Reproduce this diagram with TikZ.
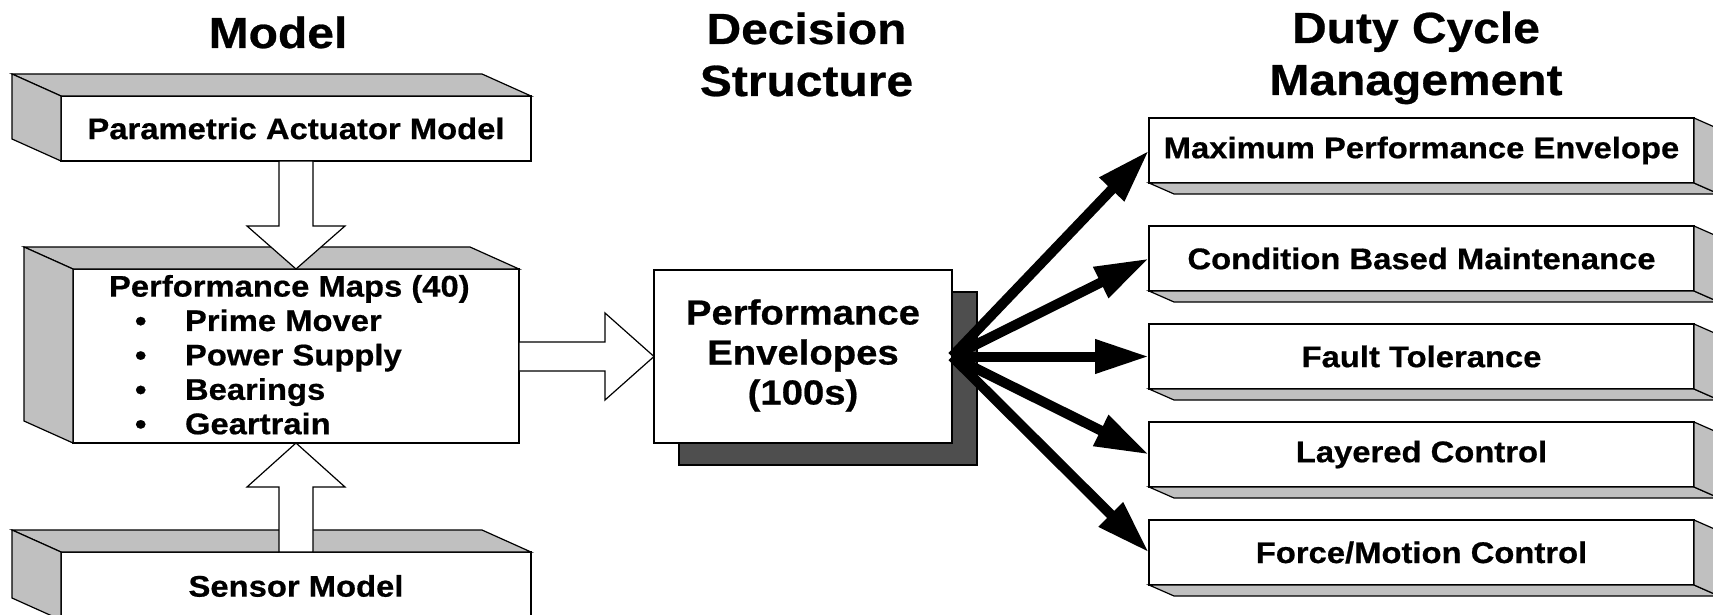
\documentclass[tikz,border=0pt]{standalone}
\usepackage{fontspec}
\setmainfont{Liberation Sans}[FakeStretch=1.1, BoldFeatures={FakeBold=0.6}]
\newfontfamily\titlefamily{Liberation Sans}[FakeStretch=1.1, BoldFeatures={FakeBold=0.6}]
\usetikzlibrary{calc,arrows.meta,shadows}

\definecolor{facegray}{RGB}{192,192,192}
\definecolor{shadowgray}{RGB}{78,78,78}

\tikzset{
  front/.style={draw=black, line width=0.6pt, fill=white, inner sep=0pt, outer sep=0pt,
                font=\bfseries\fontsize{14.9}{17}\selectfont, align=center},
  side/.style={draw=black, line width=0.6pt, fill=facegray, line join=miter},
  hollow/.style={draw=black, line width=0.6pt, fill=white, line join=miter},
  title/.style={font=\titlefamily\bfseries\fontsize{21.8}{26}\selectfont, align=center,
                inner sep=0pt, anchor=north},
  fan/.style={line width=5pt, -{Triangle[length=27pt,width=16pt]}},
  leftblock/.style={front, minimum width=235pt, minimum height=32.5pt},
  rightblock/.style={front, minimum width=272.5pt, minimum height=32.5pt},
}

% top and left faces of a block lit from the upper left
\newcommand\facesupleft[1]{%
  \draw[side] (#1.north west) -- ($(#1.north west)+(-49,-22)$) -- ($(#1.north east)+(-49,-22)$) -- (#1.north east) -- cycle;
  \draw[side] (#1.north west) -- ($(#1.north west)+(-49,-22)$) -- ($(#1.south west)+(-49,-22)$) -- (#1.south west) -- cycle;}
% bottom and right faces of a block seen from the lower right
\newcommand\facesdownright[1]{%
  \draw[side] (#1.south west) -- ($(#1.south west)+(25,11)$) -- ($(#1.south east)+(25,11)$) -- (#1.south east) -- cycle;
  \draw[side] (#1.north east) -- ($(#1.north east)+(25,11)$) -- ($(#1.south east)+(25,11)$) -- (#1.south east) -- cycle;}

\begin{document}
\begin{tikzpicture}[x=0.5pt, y=-0.5pt]
\clip (0,0) rectangle (1713,615);

% column titles
\node[title] (tmodel) at (278,16) {Model};
\node[title] (tdec) at (806.5,12) {Decision\\Structure};
\node[title] (tduty) at (1416,11) {Duty Cycle\\Management};

% model column
\node[leftblock] (pam) at (296,128.5) {Parametric Actuator Model};
\facesupleft{pam}
\node[front, minimum width=223pt, minimum height=87pt] (pmaps) at (296,356) {};
\facesupleft{pmaps}
\node[front, draw=none, fill=none, anchor=north west, align=left,
      font=\bfseries\fontsize{14.9}{17.2}\selectfont] (pmlist) at (109,275)
  {Performance Maps (40)\\
   \hspace*{13pt}\makebox[25pt][l]{•}Prime Mover\\
   \hspace*{13pt}\makebox[25pt][l]{•}Power Supply\\
   \hspace*{13pt}\makebox[25pt][l]{•}Bearings\\
   \hspace*{13pt}\makebox[25pt][l]{•}Geartrain};
\node[leftblock, minimum height=34pt] (sensor) at (296,586) {Sensor Model};
\facesupleft{sensor}

% hollow block arrows into the performance maps
\draw[hollow] ($(pam.south)+(-17,0)$) -- ($(pmaps.north)+(-17,-43)$) -- ($(pmaps.north)+(-49,-43)$)
  -- (pmaps.north) -- ($(pmaps.north)+(49,-43)$) -- ($(pmaps.north)+(17,-43)$) -- ($(pam.south)+(17,0)$) -- cycle;
\draw[hollow] ($(sensor.north)+(-17,0)$) -- ($(pmaps.south)+(-17,44)$) -- ($(pmaps.south)+(-49,44)$)
  -- (pmaps.south) -- ($(pmaps.south)+(49,44)$) -- ($(pmaps.south)+(17,44)$) -- ($(sensor.north)+(17,0)$) -- cycle;

% decision structure
\node[front, minimum width=149pt, minimum height=86.5pt,
      font=\bfseries\fontsize{17.4}{20}\selectfont,
      drop shadow={shadow xshift=12.5pt, shadow yshift=-11pt, fill=shadowgray, draw=black, opacity=1}]
  (env) at (803,356.5) {\raisebox{-1.6pt}{\begin{tabular}{@{}c@{}}Performance\\Envelopes\\(100s)\end{tabular}}};
\draw[hollow] (pmaps.east |- 0,342) -- (605,342) -- (605,313) -- (env.west) -- (605,400) -- (605,371)
  -- (pmaps.east |- 0,371) -- cycle;

% duty cycle management
\node[rightblock] (mpe) at (1421.5,150.5) {Maximum Performance Envelope};
\facesdownright{mpe}
\node[rightblock] (cbm) at (1421.5,258.5) {Condition Based Maintenance};
\facesdownright{cbm}
\node[rightblock] (ft) at (1421.5,356.5) {Fault Tolerance};
\facesdownright{ft}
\node[rightblock] (lc) at (1421.5,454.5) {Layered Control};
\facesdownright{lc}
\node[rightblock] (fmc) at (1421.5,552.5) {Force/Motion Control};
\facesdownright{fmc}

\foreach \target in {mpe,cbm,ft,lc,fmc}
  \draw[fan] (env.east) -- (\target.west);
\end{tikzpicture}
\end{document}
